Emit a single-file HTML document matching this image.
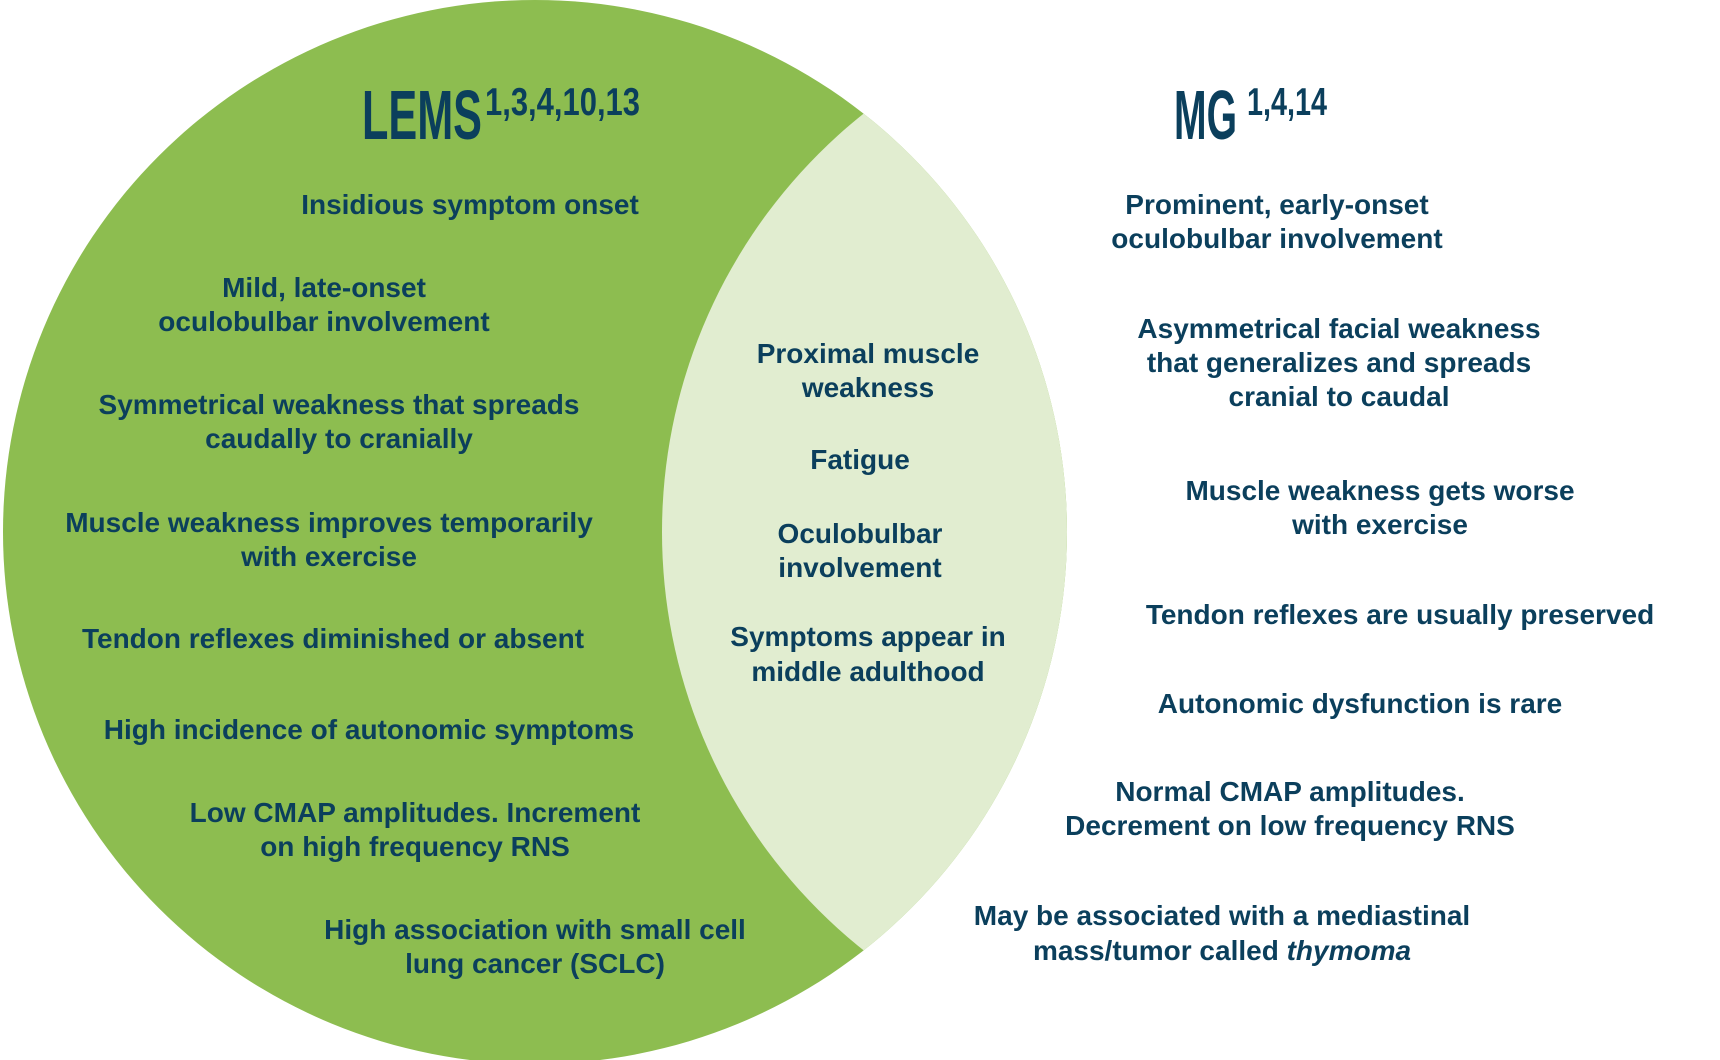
<!DOCTYPE html>
<html><head><meta charset="utf-8"><style>
html,body{margin:0;padding:0;background:#fff;}
svg{display:block;}
text{font-family:"Liberation Sans",Arial,sans-serif;font-weight:bold;fill:#0b3f5c;}
.t{font-size:28px;text-anchor:middle;}
</style></head><body>
<svg width="1720" height="1060" viewBox="0 0 1720 1060">
<defs><clipPath id="c"><circle cx="1197" cy="532" r="535"/></clipPath></defs>
<circle cx="535" cy="532" r="532" fill="#8dbd50"/>
<circle cx="535" cy="532" r="532" fill="#e1edd0" clip-path="url(#c)"/>
<text x="362" y="139" font-size="70" textLength="120" lengthAdjust="spacingAndGlyphs">LEMS</text>
<text x="485" y="115" font-size="39" textLength="155" lengthAdjust="spacingAndGlyphs">1,3,4,10,13</text>
<text x="1174" y="139" font-size="70" textLength="63" lengthAdjust="spacingAndGlyphs">MG</text>
<text x="1247" y="115" font-size="39" textLength="80" lengthAdjust="spacingAndGlyphs">1,4,14</text>
<g transform="translate(-3,-2)">
<text class="t" x="473" y="216">Insidious symptom onset</text>
<text class="t" x="327" y="299">Mild, late-onset</text>
<text class="t" x="327" y="333">oculobulbar involvement</text>
<text class="t" x="342" y="416">Symmetrical weakness that spreads</text>
<text class="t" x="342" y="450">caudally to cranially</text>
<text class="t" x="332" y="534">Muscle weakness improves temporarily</text>
<text class="t" x="332" y="568">with exercise</text>
<text class="t" x="336" y="650">Tendon reflexes diminished or absent</text>
<text class="t" x="372" y="741">High incidence of autonomic symptoms</text>
<text class="t" x="418" y="824">Low CMAP amplitudes. Increment</text>
<text class="t" x="418" y="858">on high frequency RNS</text>
<text class="t" x="538" y="941">High association with small cell</text>
<text class="t" x="538" y="975">lung cancer (SCLC)</text>
<text class="t" x="871" y="365">Proximal muscle</text>
<text class="t" x="871" y="399">weakness</text>
<text class="t" x="863" y="471">Fatigue</text>
<text class="t" x="863" y="545">Oculobulbar</text>
<text class="t" x="863" y="579">involvement</text>
<text class="t" x="871" y="648">Symptoms appear in</text>
<text class="t" x="871" y="683">middle adulthood</text>
<text class="t" x="1280" y="216">Prominent, early-onset</text>
<text class="t" x="1280" y="250">oculobulbar involvement</text>
<text class="t" x="1342" y="340">Asymmetrical facial weakness</text>
<text class="t" x="1342" y="374">that generalizes and spreads</text>
<text class="t" x="1342" y="408">cranial to caudal</text>
<text class="t" x="1383" y="502">Muscle weakness gets worse</text>
<text class="t" x="1383" y="536">with exercise</text>
<text class="t" x="1403" y="626">Tendon reflexes are usually preserved</text>
<text class="t" x="1363" y="715">Autonomic dysfunction is rare</text>
<text class="t" x="1293" y="803">Normal CMAP amplitudes.</text>
<text class="t" x="1293" y="837">Decrement on low frequency RNS</text>
<text class="t" x="1225" y="927">May be associated with a mediastinal</text>
<text class="t" x="1225" y="962">mass/tumor called <tspan font-style="italic">thymoma</tspan></text>
</g>
</svg>
</body></html>
